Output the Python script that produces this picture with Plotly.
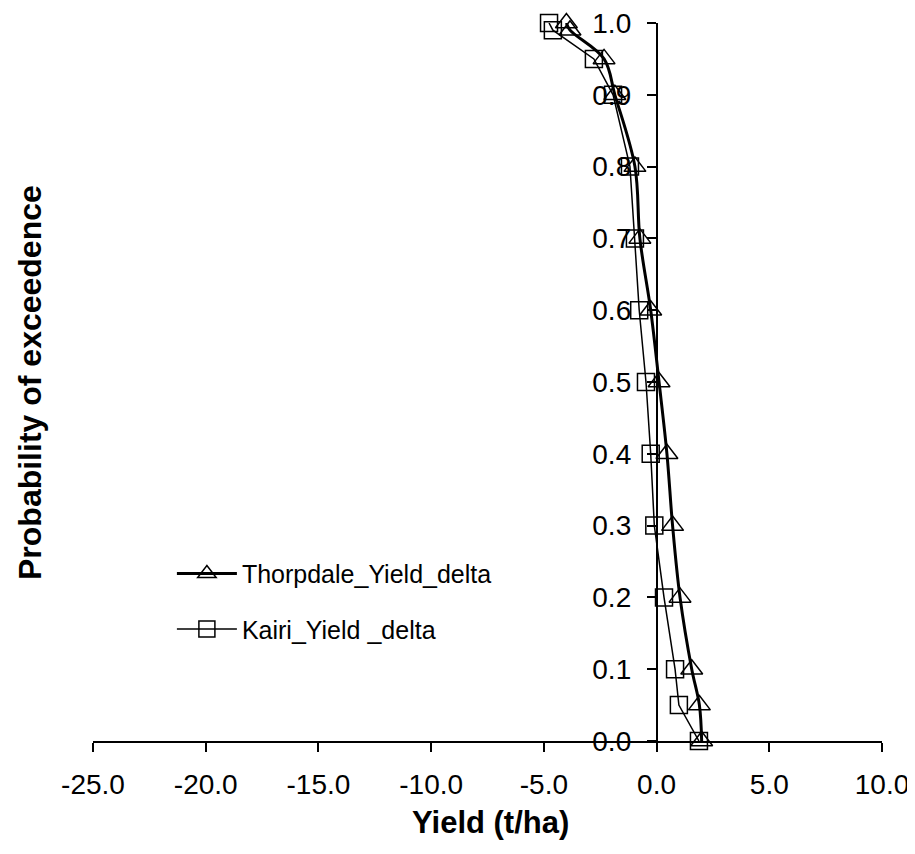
import plotly.graph_objects as go

prob = [1.0, 0.99, 0.95, 0.9, 0.8, 0.7, 0.6, 0.5, 0.4, 0.3, 0.2, 0.1, 0.05, 0.0]
thorpdale = [-4.0, -3.84, -2.33, -1.85, -0.96, -0.74, -0.26, 0.11, 0.46, 0.71, 1.04, 1.56, 1.9, 2.0]
kairi = [-4.77, -4.6, -2.78, -1.93, -1.18, -0.96, -0.77, -0.47, -0.26, -0.1, 0.33, 0.82, 0.99, 1.88]

x_ticks = [-25, -20, -15, -10, -5, 0, 5, 10]
x_labels = ["-25.0", "-20.0", "-15.0", "-10.0", "-5.0", "0.0", "5.0", "10.0"]
y_ticks = [0.0, 0.1, 0.2, 0.3, 0.4, 0.5, 0.6, 0.7, 0.8, 0.9, 1.0]
y_labels = ["0.0", "0.1", "0.2", "0.3", "0.4", "0.5", "0.6", "0.7", "0.8", "0.9", "1.0"]

FONT = "Liberation Sans, Arial, sans-serif"

fig = go.Figure()
fig.add_trace(go.Scatter(
    x=thorpdale, y=prob, mode="lines+markers", name="Thorpdale_Yield_delta",
    line=dict(color="black", width=3, shape="spline", smoothing=1.0),
    marker=dict(symbol="triangle-up-open", size=19, color="black", line=dict(width=1.5, color="black")),
    cliponaxis=False, legendgroup="a",
))
fig.add_trace(go.Scatter(
    x=kairi, y=prob, mode="lines+markers", name="Kairi_Yield _delta",
    line=dict(color="black", width=1.5),
    marker=dict(symbol="square-open", size=17, color="black", line=dict(width=1.5, color="black")),
    cliponaxis=False, legendgroup="b",
))

# page body has an 8px margin; plot area spans x 93..882 and y 23..741 on the page
fig.update_layout(
    width=907, height=846,
    margin=dict(l=85, r=33, t=15, b=113),
    paper_bgcolor="white", plot_bgcolor="white",
    font=dict(family=FONT, color="black", size=25),
    showlegend=True,
    legend=dict(
        x=0.100, y=0.265, xanchor="left", yanchor="top",
        font=dict(family=FONT, size=25, color="black"),
        bgcolor="rgba(0,0,0,0)", tracegroupgap=20, traceorder="grouped",
        itemwidth=60,
    ),
    xaxis=dict(
        range=[-25, 10], tickvals=x_ticks, ticktext=x_labels,
        showline=True, linecolor="black", linewidth=1.5,
        ticks="outside", ticklen=9, tickwidth=1.5, tickcolor="black",
        showgrid=False, zeroline=False, automargin=False,
        tickfont=dict(family=FONT, size=28, color="black"),
        ticklabelstandoff=9, ticklabeloverflow="allow",
    ),
    yaxis=dict(
        range=[0, 1], tickvals=y_ticks, ticktext=y_labels,
        anchor="free", position=25 / 35, side="left",
        showline=True, linecolor="black", linewidth=1.5,
        ticks="outside", ticklen=9, tickwidth=1.5, tickcolor="black",
        showgrid=False, zeroline=False, automargin=False,
        tickfont=dict(family=FONT, size=28, color="black"),
        ticklabelstandoff=10, ticklabeloverflow="allow",
    ),
    annotations=[
        dict(text="<b>Yield (t/ha)</b>", xref="paper", yref="paper",
             x=(490 - 93) / 789, y=(741 - 822) / 718, xanchor="center", yanchor="middle",
             showarrow=False, font=dict(family=FONT, size=31, color="black")),
        dict(text="<b>Probability of exceedence</b>", xref="paper", yref="paper",
             x=(30 - 93) / 789, y=(741 - 383) / 718, xanchor="center", yanchor="middle", textangle=-90,
             showarrow=False, font=dict(family=FONT, size=32, color="black")),
    ],
)

fig.write_html("out.html")
